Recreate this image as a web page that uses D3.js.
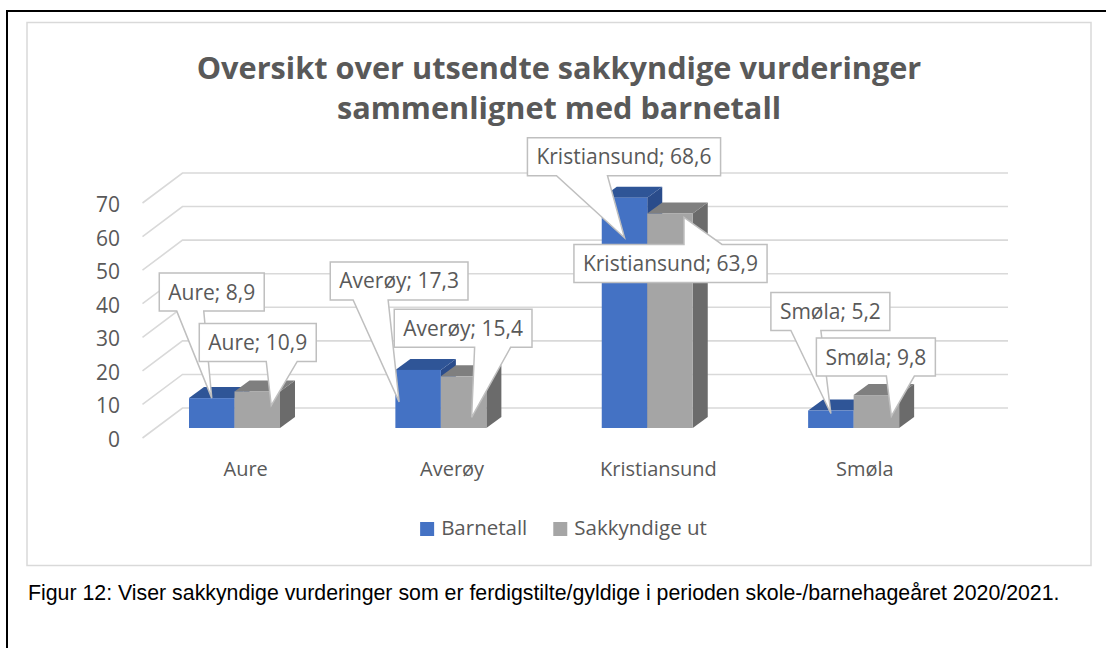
<!DOCTYPE html>
<html>
<head>
<meta charset="utf-8">
<script src="https://cdn.jsdelivr.net/npm/d3@7"></script>
<style>
  body { margin: 0; background: #fff; }
  svg text { font-family: "Open Sans", sans-serif; }
</style>
</head>
<body>
<svg id="chart" width="1106" height="648"></svg>
<script>
const categories = ['Aure', 'Averøy', 'Kristiansund', 'Smøla'];
const seriesNames = ['Barnetall', 'Sakkyndige ut'];
const barnetall = [8.9, 17.3, 68.6, 5.2];
const sakkyndigeUt = [10.9, 15.4, 63.9, 9.8];
const yTicks = [0, 10, 20, 30, 40, 50, 60, 70];
const titleLines = ['Oversikt over utsendte sakkyndige vurderinger', 'sammenlignet med barnetall'];
const captionText = 'Figur 12: Viser sakkyndige vurderinger som er ferdigstilte/gyldige i perioden skole-/barnehageåret 2020/2021.';

// callout placement, relative to the top-front centre of each bar
// (b = box centre, t = arrow tip, w0/w1 = wedge base, top = wedge leaves from box top)
const calloutPos = [
  [
    { bx: 0, by: -106, tx: 0, ty: 0, w0: -35, w1: -8 },
    { bx: -19, by: -89, tx: -19, ty: 32, w0: -65, w1: -30 },
    { bx: -0.5, by: -41, tx: 0, ty: 40, w0: -68, w1: -17 },
    { bx: -0.5, by: -99, tx: 0, ty: 3, w0: -40, w1: -10 }
  ],
  [
    { bx: 0.5, by: -49, tx: 14, ty: 14, w0: 9, w1: 40 },
    { bx: -0.5, by: -48, tx: 8, ty: 41, w0: 11, w1: 47 },
    { bx: 0.5, by: 50, tx: 14, ty: 4, w0: 14, w1: 52, top: true },
    { bx: -0.5, by: -38, tx: 15, ty: 21, w0: 10, w1: 38 }
  ]
];

const svg = d3.select('#chart');
const textColor = '#595959';
const fmt = d3.formatLocale({ decimal: ',', thousands: ' ', grouping: [3], currency: ['', ''] }).format('.1f');

// page frame and chart area border
svg.append('rect')
  .attr('x', 7).attr('y', 11).attr('width', 1300).attr('height', 800)
  .attr('fill', '#fff').attr('stroke', '#000').attr('stroke-width', 2);
svg.append('rect')
  .attr('x', 27).attr('y', 22.5).attr('width', 1064).attr('height', 543)
  .attr('fill', '#fff').attr('stroke', '#D9D9D9').attr('stroke-width', 1.5);

function fitWidth(sel, target) {
  const size = parseFloat(sel.style('font-size'));
  const w = sel.node().getComputedTextLength();
  sel.style('font-size', (size * target / w) + 'px');
  return size * target / w;
}

// title
const t1 = svg.append('text')
  .attr('x', 559).attr('y', 79).attr('text-anchor', 'middle')
  .style('font-size', '30px').style('font-weight', 700).attr('fill', textColor)
  .text(titleLines[0]);
const titleSize = fitWidth(t1, 725);
svg.append('text')
  .attr('x', 559).attr('y', 119).attr('text-anchor', 'middle')
  .style('font-size', titleSize + 'px').style('font-weight', 700).attr('fill', textColor)
  .text(titleLines[1]);

// 3D geometry
const DEPTH_X = 40, DEPTH_Y = 30;      // floor depth
const BAR_DX = 15, BAR_DY = 11;        // bar depth
const BAR_PLANE = 10;                  // bars sit this far back from the floor front

const x0 = d3.scaleBand().domain(categories).range([142.5, 968]);
const x1 = d3.scaleBand().domain(seriesNames).range([46.5, 137.5]);
const y = d3.scaleLinear().domain([0, 70]).range([438, 203]);

// gridlines: diagonal on the side wall, horizontal on the back wall
const grid = svg.append('g').attr('stroke', '#D9D9D9').attr('stroke-width', 1.6).attr('fill', 'none');
grid.selectAll('path').data(yTicks).join('path')
  .attr('d', v => {
    const xa = x0.range()[0];
    return `M${xa},${y(v)}L${xa + DEPTH_X},${y(v) - DEPTH_Y}H${x0.range()[1] + DEPTH_X}`;
  });

// y tick labels
svg.append('g').selectAll('text').data(yTicks).join('text')
  .attr('x', 120).attr('y', v => y(v) + 9)
  .attr('text-anchor', 'end')
  .style('font-size', '21px').attr('fill', textColor)
  .text(d => d);

// bars
const faces = [
  { front: '#4472C4', top: '#2F5597', side: '#2A4C8B' },
  { front: '#A5A5A5', top: '#7F7F7F', side: '#6B6B6B' }
];
const values = [barnetall, sakkyndigeUt];
const base = y(0) - BAR_PLANE;

const bars = [];
categories.forEach((c, i) => {
  seriesNames.forEach((s, k) => {
    bars.push({ cat: c, ser: s, k, i, v: values[k][i] });
  });
});

const barG = svg.append('g').selectAll('g').data(bars).join('g');
barG.each(function (d) {
  const g = d3.select(this);
  const xl = x0(d.cat) + x1(d.ser);
  const xr = xl + x1.bandwidth();
  const yt = y(d.v) - BAR_PLANE;
  const f = faces[d.k];
  g.append('path')
    .attr('d', `M${xr},${base}L${xr + BAR_DX},${base - BAR_DY}V${yt - BAR_DY}L${xr},${yt}Z`)
    .attr('fill', f.side);
  g.append('path')
    .attr('d', `M${xl},${yt}L${xl + BAR_DX},${yt - BAR_DY}H${xr + BAR_DX}L${xr},${yt}Z`)
    .attr('fill', f.top);
  g.append('rect')
    .attr('x', xl).attr('y', yt).attr('width', xr - xl).attr('height', base - yt)
    .attr('fill', f.front);
});

// category labels
svg.append('g').selectAll('text').data(categories).join('text')
  .attr('x', c => x0(c) + x0.bandwidth() / 2).attr('y', 476)
  .attr('text-anchor', 'middle')
  .style('font-size', '20px').attr('fill', textColor)
  .text(c => c);

// data callouts
const calloutG = svg.append('g');
[0, 1].forEach(k => {
  bars.filter(d => d.k === k).forEach(d => {
    const p = calloutPos[k][d.i];
    const ax = x0(d.cat) + x1(d.ser) + x1.bandwidth() / 2;
    const ay = y(d.v) - BAR_PLANE;
    const g = calloutG.append('g');
    const txt = g.append('text')
      .attr('text-anchor', 'middle')
      .style('font-size', '21px').attr('fill', textColor)
      .text(`${d.cat}; ${fmt(d.v)}`);
    const w = txt.node().getComputedTextLength() + 18;
    const h = 38;
    const cx = ax + p.bx, cy = ay + p.by;
    const l = cx - w / 2, r = cx + w / 2, t = cy - h / 2, b = cy + h / 2;
    const tx = ax + p.tx, ty = ay + p.ty;
    const w0 = ax + p.w0, w1 = ax + p.w1;
    const dPath = p.top
      ? `M${l},${t}H${w0}L${tx},${ty}L${w1},${t}H${r}V${b}H${l}Z`
      : `M${l},${t}H${r}V${b}H${w1}L${tx},${ty}L${w0},${b}H${l}Z`;
    g.insert('path', 'text')
      .attr('d', dPath)
      .attr('fill', '#fff').attr('stroke', '#BFBFBF').attr('stroke-width', 1.5)
      .attr('stroke-linejoin', 'miter');
    txt.attr('x', cx).attr('y', cy + 7.5);
  });
});

// legend
const legend = svg.append('g');
let lx = 0;
const items = seriesNames.map((s, k) => {
  const g = legend.append('g');
  g.append('rect').attr('width', 14).attr('height', 14).attr('y', -13).attr('fill', faces[k].front);
  const tt = g.append('text').attr('x', 21).attr('y', 0)
    .style('font-size', '20.5px').attr('fill', textColor).text(s);
  const w = 21 + tt.node().getComputedTextLength();
  g.attr('transform', `translate(${lx},0)`);
  lx += w + 26;
  return w;
});
const legendW = lx - 26;
legend.attr('transform', `translate(${563.5 - legendW / 2},535)`);

// caption
const cap = svg.append('text')
  .attr('x', 28).attr('y', 600)
  .style('font-family', '"Liberation Sans", Arial, sans-serif')
  .style('font-size', '20px').attr('fill', '#000')
  .text(captionText);
fitWidth(cap, 1032);
</script>
</body>
</html>
